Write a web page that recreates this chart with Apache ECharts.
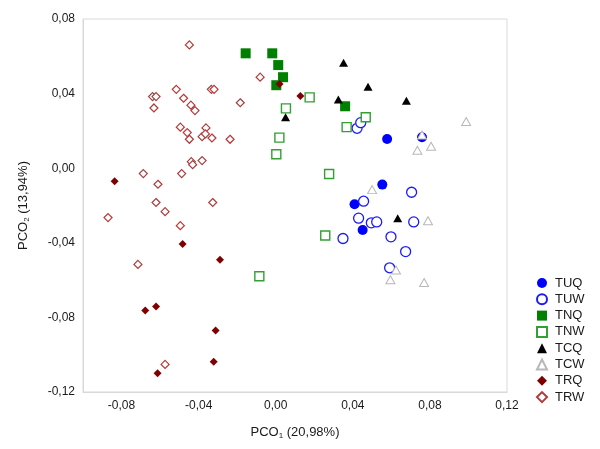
<!DOCTYPE html>
<html><head><meta charset="utf-8">
<script src="https://cdn.jsdelivr.net/npm/echarts@6/dist/echarts.min.js"></script>
<style>html,body{margin:0;padding:0;background:#fff}#c{width:600px;height:449px}</style>
</head><body><div id="c"></div>
<script>
// Series values [PCO1, PCO2]
const TUQ = [[0.0578,0.0157],[0.0759,0.0166],[0.0553,-0.0088],[0.0409,-0.0193],[0.0451,-0.0331]];
const TUW = [[0.0422,0.0214],[0.0441,0.0244],[0.0705,-0.0129],[0.0456,-0.0177],[0.0430,-0.0268],[0.0496,-0.0293],[0.0524,-0.0288],[0.0716,-0.0288],[0.0349,-0.0377],[0.0598,-0.0368],[0.0674,-0.0447],[0.0591,-0.0534]];
const TNQ = [[-0.0156,0.0616],[-0.0018,0.0616],[0.0013,0.0553],[0.0038,0.0488],[0.0003,0.0445],[0.0360,0.0332]];
const TNW = [[0.0176,0.0380],[0.0053,0.0321],[0.0019,0.0164],[0.0003,0.0075],[0.0277,-0.0031],[0.0368,0.0220],[0.0467,0.0273],[-0.0085,-0.0579],[0.0257,-0.0361]];
const TCQ = [[0.0352,0.0566],[0.0479,0.0437],[0.0325,0.0368],[0.0678,0.0361],[0.0051,0.0273],[0.0633,-0.0268]];
const TCW = [[0.0988,0.0250],[0.0806,0.0118],[0.0735,0.0096],[0.0759,0.0178],[0.0500,-0.0115],[0.0790,-0.0282],[0.0624,-0.0546],[0.0595,-0.0598],[0.0770,-0.0613]];
const TRQ = [[-0.0836,-0.0070],[0.0020,0.0452],[0.0128,0.0387],[-0.0483,-0.0406],[-0.0289,-0.0491],[-0.0621,-0.0742],[-0.0677,-0.0763],[-0.0312,-0.0870],[-0.0322,-0.1038],[-0.0613,-0.1100]];
const TRW = [[-0.0448,0.0661],[-0.0081,0.0488],[-0.0516,0.0423],[-0.0334,0.0423],[-0.0320,0.0423],[-0.0639,0.0384],[-0.0621,0.0384],[-0.0478,0.0375],[-0.0632,0.0323],[-0.0440,0.0338],[-0.0419,0.0309],[-0.0184,0.0351],[-0.0495,0.0220],[-0.0362,0.0216],[-0.0459,0.0191],[-0.0448,0.0155],[-0.0382,0.0169],[-0.0365,0.0184],[-0.0331,0.0162],[-0.0237,0.0155],[-0.0438,0.0035],[-0.0431,0.0019],[-0.0382,0.0041],[-0.0687,-0.0029],[-0.0488,-0.0029],[-0.0611,-0.0086],[-0.0621,-0.0184],[-0.0574,-0.0233],[-0.0327,-0.0184],[-0.0870,-0.0265],[-0.0495,-0.0308],[-0.0715,-0.0516],[-0.0574,-0.1052]];
const seriesNames = ['TUQ','TUW','TNQ','TNW','TCQ','TCW','TRQ','TRW'];
const xTicks = {min:-0.10, max:0.12, interval:0.02, labelStep:0.04};
const yTicks = {min:-0.12, max:0.08, interval:0.04};

const dataMap = {TUQ,TUW,TNQ,TNW,TCQ,TCW,TRQ,TRW};
const styles = {
  TUQ:{symbol:'circle',size:10,itemStyle:{color:'#0000ff'}},
  TUW:{symbol:'circle',size:10,itemStyle:{color:'#ffffff',borderColor:'#1a1aff',borderWidth:1.3}},
  TNQ:{symbol:'rect',size:10,itemStyle:{color:'#008000'}},
  TNW:{symbol:'rect',size:9,itemStyle:{color:'#ffffff',borderColor:'#33a033',borderWidth:1.4}},
  TCQ:{symbol:'triangle',size:[9,8],itemStyle:{color:'#000000'}},
  TCW:{symbol:'triangle',size:[9,8],itemStyle:{color:'#ffffff',borderColor:'#b8b8b8',borderWidth:1}},
  TRQ:{symbol:'diamond',size:8,itemStyle:{color:'#800000'}},
  TRW:{symbol:'diamond',size:8,itemStyle:{color:'#ffffff',borderColor:'#b03a3a',borderWidth:1.2}}
};
const fmt = v => v.toFixed(2).replace('.', ',').replace('-0,00','0,00');
const xFmt = v => {
  const k = Math.round(v / xTicks.labelStep * 1000) / 1000;
  return Math.abs(k - Math.round(k)) < 1e-6 ? fmt(v) : '';
};
const font = 'Liberation Sans, Arial, sans-serif';

const chart = echarts.init(document.getElementById('c'), null, {renderer:'canvas'});
chart.setOption({
  animation:false,
  backgroundColor:'#ffffff',
  grid:{left:83,right:93,top:19,bottom:57,show:true,borderColor:'#d9d9d9',borderWidth:1},
  xAxis:{type:'value',min:xTicks.min,max:xTicks.max,interval:xTicks.interval,
    axisLine:{show:true,onZero:false,lineStyle:{color:'#d9d9d9'}},axisTick:{show:false},splitLine:{show:false},
    axisLabel:{formatter:xFmt,color:'#1a1a1a',fontSize:12,fontFamily:font,margin:8,showMinLabel:true,showMaxLabel:true},
    name:'PCO{sub|1} (20,98%)',nameLocation:'middle',nameGap:33,
    nameTextStyle:{color:'#1a1a1a',fontSize:13,fontFamily:font,rich:{sub:{fontSize:8,fontFamily:font,color:'#1a1a1a',padding:[7,0,0,0]}}}},
  yAxis:{type:'value',min:yTicks.min,max:yTicks.max,interval:yTicks.interval,
    axisLine:{show:true,onZero:false,lineStyle:{color:'#d9d9d9'}},axisTick:{show:false},splitLine:{show:false},
    axisLabel:{formatter:fmt,color:'#1a1a1a',fontSize:12,fontFamily:font,margin:8},
    name:'PCO{sub|2} (13,94%)',nameLocation:'middle',nameGap:52,nameRotate:90,
    nameTextStyle:{color:'#1a1a1a',fontSize:13,fontFamily:font,rich:{sub:{fontSize:8,fontFamily:font,color:'#1a1a1a',padding:[7,0,0,0]}}}},
  legend:{orient:'vertical',left:536,top:276,padding:0,itemGap:2.3,itemWidth:10,itemHeight:10,itemSymbolKeepAspect:true,
    textStyle:{color:'#1a1a1a',fontSize:13,fontFamily:font,lineHeight:14,padding:[0,0,0,3]},
    data:seriesNames},
  series:seriesNames.map(n=>({
    name:n,type:'scatter',data:dataMap[n],symbol:styles[n].symbol,symbolSize:styles[n].size,
    itemStyle:Object.assign({opacity:1},styles[n].itemStyle),emphasis:{disabled:true}
  }))
});
</script></body></html>
